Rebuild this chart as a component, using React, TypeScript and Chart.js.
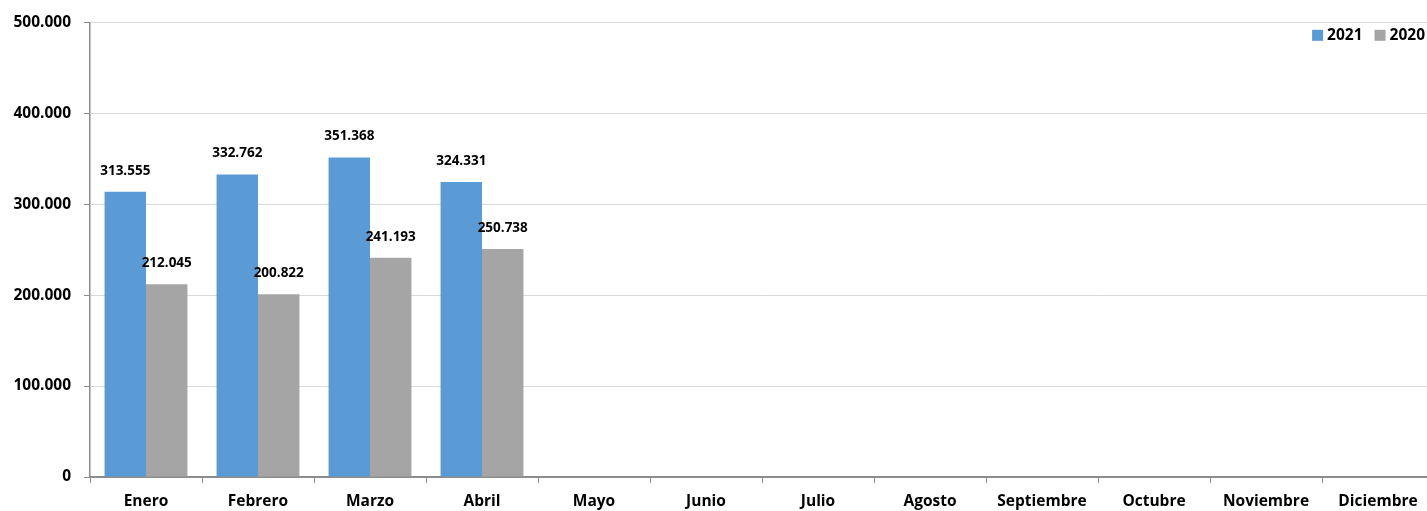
import React, { useEffect, useRef } from "react";
import { Chart, registerables } from "chart.js";

Chart.register(...registerables);

const months = [
  "Enero", "Febrero", "Marzo", "Abril", "Mayo", "Junio",
  "Julio", "Agosto", "Septiembre", "Octubre", "Noviembre", "Diciembre",
];
const values2021 = [313555, 332762, 351368, 324331, null, null, null, null, null, null, null, null];
const values2020 = [212045, 200822, 241193, 250738, null, null, null, null, null, null, null, null];
const seriesNames = ["2021", "2020"];
const seriesColors = ["#5b9bd5", "#a5a5a5"];
const yTicks = [0, 100000, 200000, 300000, 400000, 500000];

const FONT = "'Open Sans', Lato, sans-serif";

function fmt(v: number): string {
  return String(Math.round(v)).replace(/\B(?=(\d{3})+(?!\d))/g, ".");
}

const valueLabels = {
  id: "valueLabels",
  afterDatasetsDraw(chart: any) {
    const ctx = chart.ctx;
    ctx.save();
    ctx.font = `bold 13.5px ${FONT}`;
    ctx.fillStyle = "#000";
    ctx.textAlign = "center";
    ctx.textBaseline = "middle";
    chart.data.datasets.forEach((ds: any, i: number) => {
      const meta = chart.getDatasetMeta(i);
      meta.data.forEach((el: any, j: number) => {
        const v = ds.data[j];
        if (v === null || v === undefined) return;
        ctx.fillText(fmt(v), el.x, el.y - 21);
      });
    });
    ctx.restore();
  },
};

const areaLegend = {
  id: "areaLegend",
  afterDraw(chart: any) {
    const ctx = chart.ctx;
    const area = chart.chartArea;
    ctx.save();
    ctx.font = `bold 15.5px ${FONT}`;
    ctx.textBaseline = "middle";
    ctx.textAlign = "left";
    const box = 11;
    const gapBoxText = 4;
    const gapItems = 12;
    const items = chart.data.datasets.map((ds: any) => ({
      label: ds.label,
      color: ds.backgroundColor,
      w: ctx.measureText(ds.label).width,
    }));
    const total = items.reduce((s: number, it: any) => s + box + gapBoxText + it.w, 0) + gapItems * (items.length - 1);
    let x = area.right - 9 - total;
    const cy = area.top + 13;
    items.forEach((it: any) => {
      ctx.fillStyle = it.color;
      ctx.fillRect(x, cy - box / 2, box, box);
      x += box + gapBoxText;
      ctx.fillStyle = "#000";
      ctx.fillText(it.label, x, cy);
      x += it.w + gapItems;
    });
    ctx.restore();
  },
};

export default function App() {
  const ref = useRef<HTMLCanvasElement | null>(null);

  useEffect(() => {
    if (!ref.current) return;
    const chart = new Chart(ref.current, {
      type: "bar",
      data: {
        labels: months,
        datasets: [
          {
            label: seriesNames[0],
            data: values2021,
            backgroundColor: seriesColors[0],
            borderWidth: 0,
            categoryPercentage: 0.74,
            barPercentage: 1,
          },
          {
            label: seriesNames[1],
            data: values2020,
            backgroundColor: seriesColors[1],
            borderWidth: 0,
            categoryPercentage: 0.74,
            barPercentage: 1,
          },
        ] as any,
      },
      options: {
        responsive: false,
        animation: false,
        layout: { padding: { left: 8, top: 21, right: 6, bottom: 1 } },
        plugins: {
          legend: { display: false },
          title: { display: false },
          tooltip: { enabled: false },
        },
        scales: {
          x: {
            grid: {
              display: true,
              drawOnChartArea: false,
              drawTicks: true,
              tickLength: 6,
              tickColor: "#8c8c8c",
              offset: true,
            },
            border: { display: true, color: "#8c8c8c", width: 2 },
            ticks: {
              color: "#000",
              font: { family: FONT, size: 15.5, weight: "bold" },
              padding: 9.5,
              maxRotation: 0,
              autoSkip: false,
            },
            afterFit: (scale: any) => {
              scale.height = 33;
            },
          },
          y: {
            min: 0,
            max: 500000,
            afterBuildTicks: (scale: any) => {
              scale.ticks = yTicks.map((v) => ({ value: v }));
            },
            grid: {
              color: "#d9d9d9",
              tickColor: "#8c8c8c",
              tickLength: 6,
              drawTicks: true,
            },
            border: { display: true, color: "#8c8c8c", width: 1.5 },
            ticks: {
              color: "#000",
              font: { family: FONT, size: 15.5, weight: "bold" },
              padding: 13,
              callback: (v: any) => fmt(Number(v)),
            },
            afterFit: (scale: any) => {
              scale.width = 82;
            },
          },
        },
      },
      plugins: [valueLabels, areaLegend],
    });
    return () => chart.destroy();
  }, []);

  return (
    <div
      style={{
        position: "fixed",
        left: 0,
        top: 0,
        width: 1427,
        height: 511,
        overflow: "hidden",
        background: "#fff",
      }}
    >
      <canvas ref={ref} width={1440} height={511} style={{ display: "block" }} />
    </div>
  );
}
